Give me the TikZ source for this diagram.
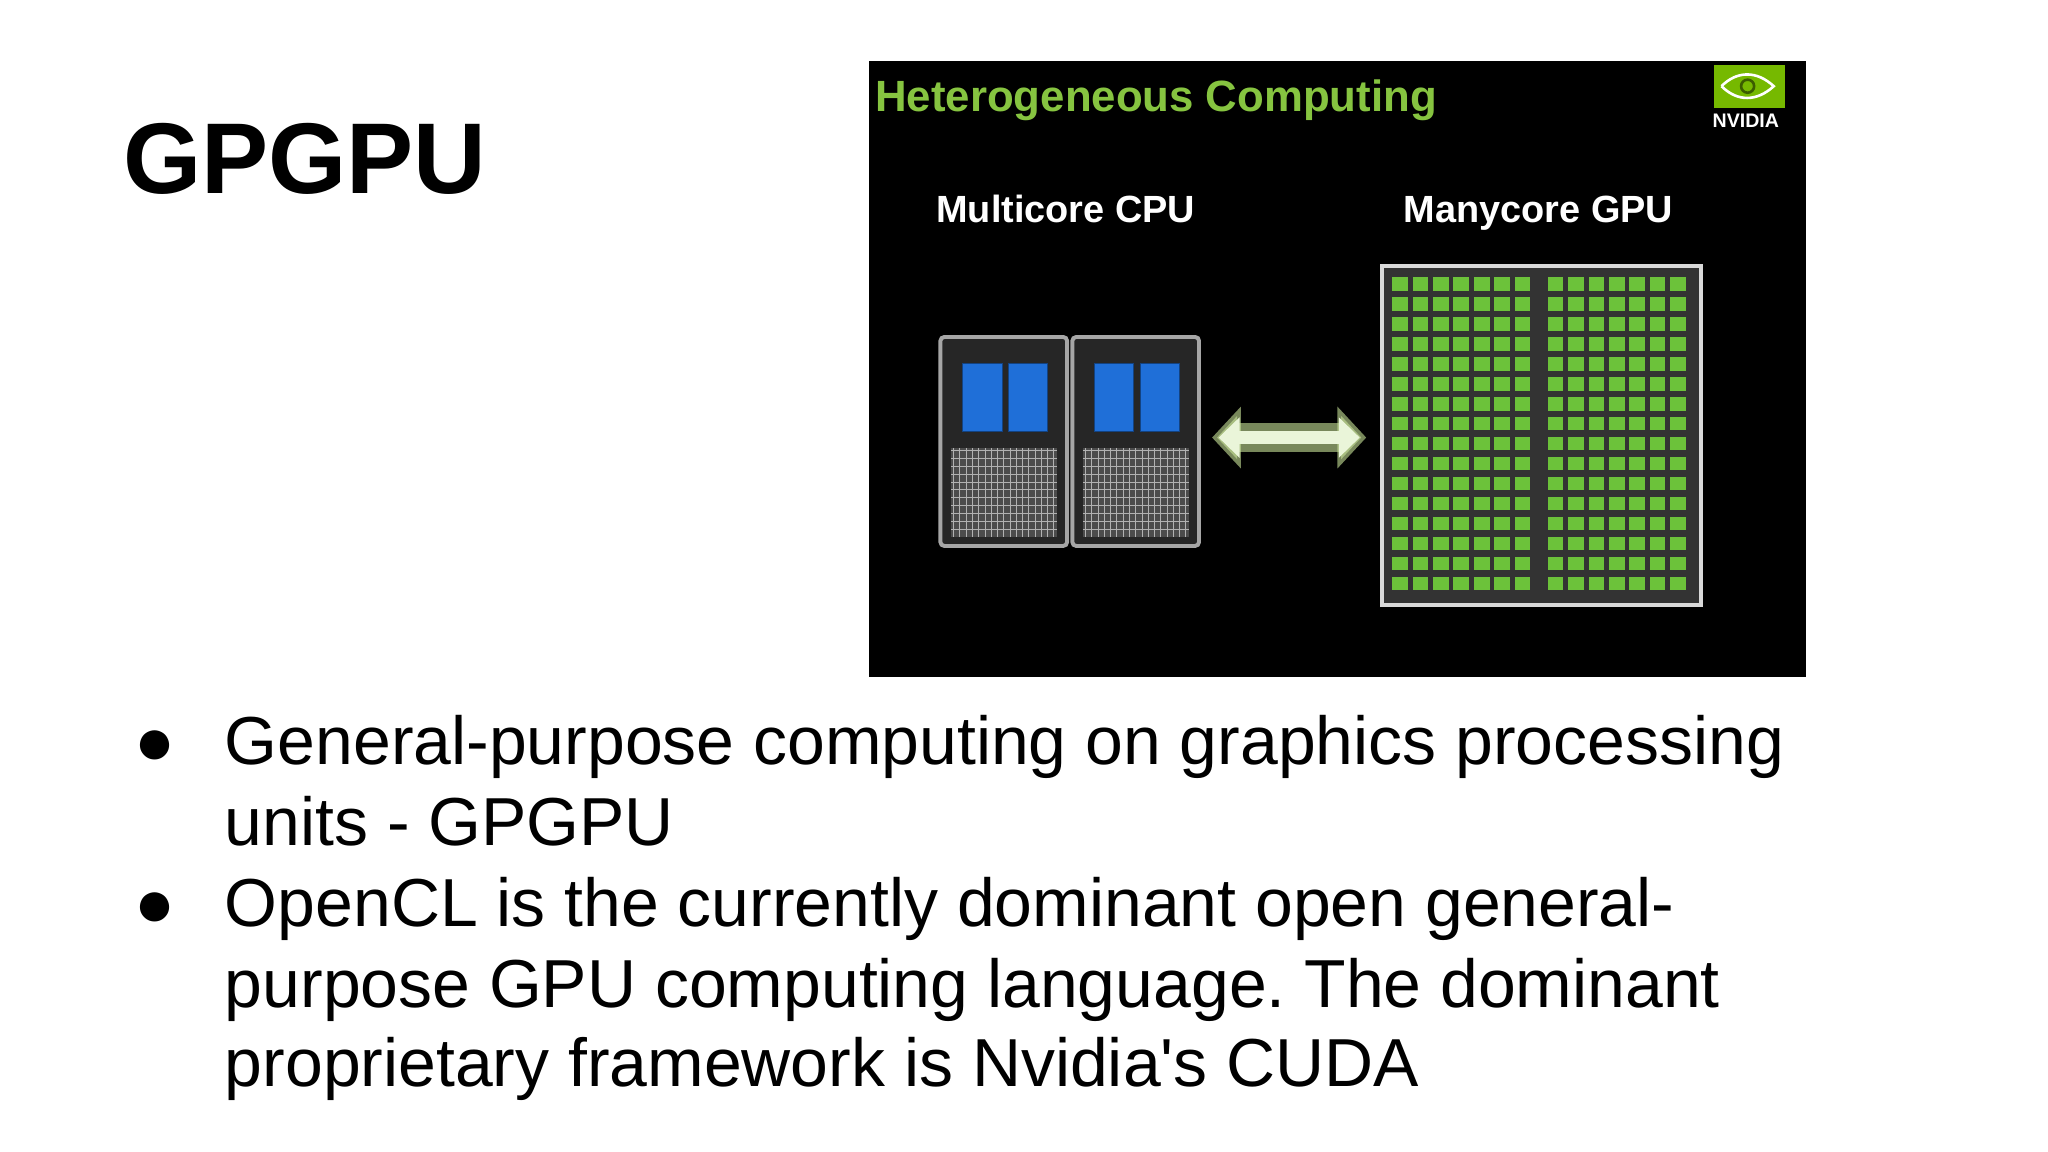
\documentclass[tikz,border=0pt]{standalone}
\usepackage{fontspec}
\setmainfont{Liberation Sans}[Ligatures=TeXOff]
\usetikzlibrary{arrows.meta}
\definecolor{nvgreen}{HTML}{76B900}
\definecolor{hgreen}{HTML}{86C440}
\definecolor{cellgreen}{HTML}{6CC23A}
\definecolor{cpublue}{HTML}{1F6FD8}
\tikzset{
  txt/.style={inner sep=0pt,anchor=base west},
  cpubox/.style={draw=gray!70,line width=3pt,fill=black!85,rounded corners=3pt},
  blue/.style={fill=cpublue,draw=cpublue!60!black},
  cell/.style={fill=cellgreen}
}
\frenchspacing
\begin{document}
\begin{tikzpicture}[x=1pt,y=-1pt]
\useasboundingbox (0,0) rectangle (1568,882);
\fill[white] (0,0) rectangle (1568,882);
\node[txt,font=\bfseries\fontsize{77}{77}\selectfont] (title) at (94,148) {GPGPU};
% slide image
\fill[black] (665,47) rectangle (1383,518);
\node[txt,text=hgreen,font=\bfseries\fontsize{33.5}{33.5}\selectfont] (het) at (670,85) {Heterogeneous Computing};
\fill[nvgreen] (1312,50) rectangle (1367,83);
\draw[white,line width=2pt] (1318,66) .. controls (1330,54) and (1345,54) .. (1358,66) .. controls (1345,78) and (1330,78) .. (1318,66);
\draw[nvgreen!50!black,line width=2pt] (1338,66) circle (5);
\node[txt,text=white,font=\bfseries\fontsize{15}{15}\selectfont] (nv) at (1311,98) {NVIDIA};
\node[txt,text=white,font=\bfseries\fontsize{29}{29}\selectfont,anchor=base] (cpul) at (816,170) {Multicore CPU};
\node[txt,text=white,font=\bfseries\fontsize{29}{29}\selectfont,anchor=base] (gpul) at (1178,170) {Manycore GPU};
% CPU
\foreach \x in {720,821}{
  \draw[cpubox] (\x,258) rectangle (\x+97,418);
  \fill[black!70] (\x+8,343) rectangle (\x+89,411);
  \foreach \i in {0,...,10} \draw[gray!60,line width=0.5pt] (\x+8,345+\i*6) -- (\x+89,345+\i*6);
  \foreach \i in {0,...,16} \draw[gray!60,line width=0.5pt] (\x+10+\i*4.8,343) -- (\x+10+\i*4.8,411);
  \draw[blue] (\x+17,278) rectangle (\x+47,330);
  \draw[blue] (\x+52,278) rectangle (\x+82,330);
}
% arrow
\node (ca) at (928,335) {}; \node (ga) at (1046,335) {};
\draw[nvgreen!40,line width=22pt,{Triangle[length=22pt,width=46pt]}-{Triangle[length=22pt,width=46pt]},opacity=0.6] (ca.center) -- (ga.center);
\draw[white!85!nvgreen,line width=10pt,{Triangle[length=16pt,width=30pt]}-{Triangle[length=16pt,width=30pt]}] (933,335) -- (1041,335);
% GPU
\draw[gray!30,line width=3pt,fill=black!80] (1058,204) rectangle (1302,463);
\foreach \g in {1066,1185}{
  \foreach \c in {0,...,6}{
    \foreach \r in {0,...,15}{
      \fill[cell] (\g+\c*15.6,212+\r*15.3) rectangle ++(12,10.5);
    }
  }
}
% bullets
\begin{scope}[font=\fontsize{52}{52}\selectfont]
\node[txt] (b1) at (103,585) {●};
\node[txt] (b2) at (103,709) {●};
\node[txt] (l1) at (172,585) {General-purpose computing on graphics processing};
\node[txt] (l2) at (172,647) {units - GPGPU};
\node[txt] (l3) at (172,709) {OpenCL is the currently dominant open general-};
\node[txt] (l4) at (172,771) {purpose GPU computing language. The dominant};
\node[txt] (l5) at (172,832) {proprietary framework is Nvidia's CUDA};
\end{scope}
\end{tikzpicture}
\end{document}
